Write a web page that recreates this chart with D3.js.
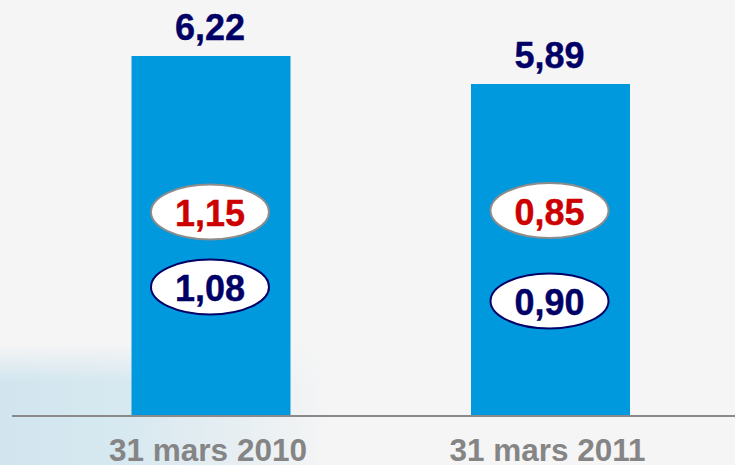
<!DOCTYPE html>
<html><head><meta charset="utf-8">
<script src="https://cdn.jsdelivr.net/npm/d3@7"></script>
<style>html,body{margin:0;padding:0;background:#f5f5f5;overflow:hidden}</style>
</head><body>
<svg id="c" width="735" height="465"></svg>
<script>
// ---- data ----
const categories = ["31 mars 2010", "31 mars 2011"];
const totals = [6.22, 5.89];
const totalLabels = ["6,22", "5,89"];
const redValues = [1.15, 0.85];
const redLabels = ["1,15", "0,85"];
const navyValues = [1.08, 0.90];
const navyLabels = ["1,08", "0,90"];

// ---- layout ----
const W = 735, H = 465;
const svg = d3.select("#c");
const font = "'Liberation Sans', Arial, sans-serif";

const defs = svg.append("defs");
const gh = defs.append("linearGradient").attr("id","wmh").attr("x1",0).attr("y1",0).attr("x2",1).attr("y2",0);
gh.append("stop").attr("offset","0").attr("stop-color","#d2e5ee");
gh.append("stop").attr("offset","0.35").attr("stop-color","#d6e8f0");
gh.append("stop").attr("offset","0.7").attr("stop-color","#e6eef2");
gh.append("stop").attr("offset","1").attr("stop-color","#f5f5f5");
const gv = defs.append("linearGradient").attr("id","wmv").attr("x1",0).attr("y1",0).attr("x2",0).attr("y2",1);
gv.append("stop").attr("offset","0").attr("stop-color","#fff").attr("stop-opacity",0);
gv.append("stop").attr("offset","0.3").attr("stop-color","#fff").attr("stop-opacity",1);
gv.append("stop").attr("offset","1").attr("stop-color","#fff").attr("stop-opacity",1);
const mask = defs.append("mask").attr("id","wmmask");
mask.append("rect").attr("x",0).attr("y",345).attr("width",330).attr("height",120).attr("fill","url(#wmv)");

svg.append("rect").attr("width",W).attr("height",H).attr("fill","#f5f5f5");
svg.append("rect").attr("x",0).attr("y",345).attr("width",330).attr("height",120)
  .attr("fill","url(#wmh)").attr("mask","url(#wmmask)");

const x = d3.scalePoint().domain(categories).range([211, 550.5]);
const bw = 159;
const xc = c => x(c);
const y = d3.scaleLinear().domain([1.99, 6.22]).range([415, 56]);

// bars
svg.selectAll("rect.bar").data(categories).enter().append("rect")
  .attr("class","bar")
  .attr("x", c => xc(c) - bw/2).attr("width", bw)
  .attr("y", (c,i) => y(totals[i])).attr("height", (c,i) => y.range()[0] - y(totals[i]))
  .attr("fill", "#0099dd");

// baseline axis
svg.append("line").attr("x1",12).attr("x2",W).attr("y1",416).attr("y2",416)
  .attr("stroke","#8a8a8a").attr("stroke-width",2);

// total labels
svg.selectAll("text.tot").data(categories).enter().append("text")
  .attr("x", c => xc(c) - 1).attr("y", (c,i) => y(totals[i]) - 16)
  .attr("text-anchor","middle").attr("font-family",font).attr("font-weight","bold")
  .attr("font-size",36).attr("fill","#000066")
  .attr("stroke","#000066").attr("stroke-width",0.4)
  .text((c,i) => totalLabels[i]);

// ellipses
const redRowY = [212, 210.5];
const navyRowY = [287, 301];
function ell(vals, labels, rows, stroke, color) {
  const g = svg.selectAll(null).data(categories).enter().append("g")
    .attr("transform", (c,i) => `translate(${xc(c) - 1},${rows[i]})`);
  g.append("ellipse").attr("rx",59).attr("ry",27.5)
    .attr("fill","#ffffff").attr("stroke",stroke).attr("stroke-width",2);
  g.append("text").attr("y",14).attr("text-anchor","middle")
    .attr("font-family",font).attr("font-weight","bold").attr("font-size",36)
    .attr("fill",color).attr("stroke",color).attr("stroke-width",0.4)
    .text((c,i) => labels[i]);
}
ell(redValues, redLabels, redRowY, "#8c8c8c", "#cc0000");
ell(navyValues, navyLabels, navyRowY, "#000066", "#000066");

// category labels
svg.selectAll("text.cat").data(categories).enter().append("text")
  .attr("x", c => xc(c) - 3).attr("y", 461)
  .attr("text-anchor","middle").attr("font-family",font).attr("font-weight","bold")
  .attr("font-size",31.5).attr("fill","#858585")
  .text(c => c);
</script>
</body></html>
